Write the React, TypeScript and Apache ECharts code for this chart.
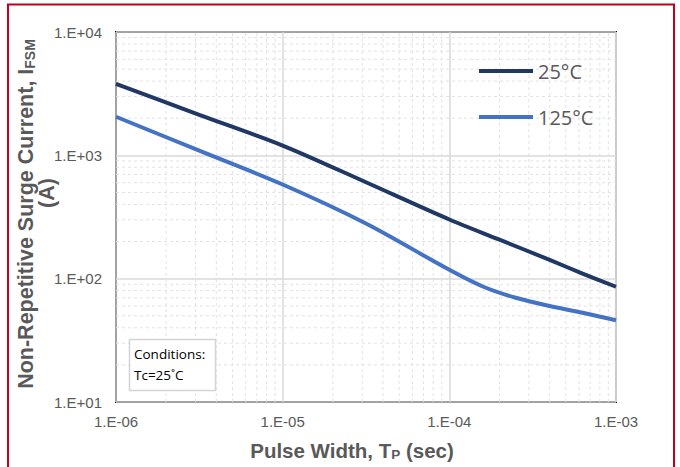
import React, { useEffect, useRef } from "react";
import * as echarts from "echarts";

// ---- data ----
const series25Name = "25°C";
const series125Name = "125°C";

const x25: number[] = [1e-6, 3.16e-6, 1e-5, 3.16e-5, 1e-4, 2e-4, 4e-4, 6.3e-4, 1e-3];
const y25: number[] = [3800, 2130, 1200, 605, 302, 207, 142, 110, 86];

const x125: number[] = [1e-6, 3.16e-6, 1e-5, 3.16e-5, 1e-4, 1.6e-4, 2.5e-4, 4e-4, 6.3e-4, 1e-3];
const y125: number[] = [2055, 1090, 580, 280, 118, 86, 70, 60, 53, 46];

const xTickLabels: string[] = ["1.E-06", "1.E-05", "1.E-04", "1.E-03"];
const yTickLabels: string[] = ["1.E+01", "1.E+02", "1.E+03", "1.E+04"];
const xMinExp = -6;
const yMinExp = 1;
const xMin = 1e-6;
const xMax = 1e-3;
const yMin = 10;
const yMax = 10000;

const minorMultipliers: number[] = [2, 3, 4, 5, 6, 7, 8, 9];
const xMinorDecades: number[] = [1e-6, 1e-5, 1e-4];
const yMinorDecades: number[] = [10, 100, 1000];

const conditionsLines: string[] = ["Conditions:", "Tc=25˚C"];

const GRAY = "#595959";

export default function App() {
  const ref = useRef<HTMLDivElement>(null);

  useEffect(() => {
    if (!ref.current) return;
    const chart = echarts.init(ref.current, undefined, { renderer: "svg" });

    const xMinor: number[] = [];
    xMinorDecades.forEach((d) => minorMultipliers.forEach((m) => xMinor.push(d * m)));
    const yMinor: number[] = [];
    yMinorDecades.forEach((d) => minorMultipliers.forEach((m) => yMinor.push(d * m)));

    const fmt = (labels: string[], minExp: number) => (v: number) => {
      const idx = Math.round(Math.log10(v)) - minExp;
      return labels[idx] ?? "";
    };

    const minorStyle = { stroke: "#e2e2e2", lineWidth: 1, lineDash: [3, 3], fill: "none" };

    const option: any = {
      animation: false,
      grid: { left: 116, top: 32, right: 64, bottom: 65, show: true, borderColor: "#000", borderWidth: 2, backgroundColor: "transparent", containLabel: false },
      xAxis: {
        type: "log",
        logBase: 10,
        min: xMin,
        max: xMax,
        splitNumber: 3,
        axisLine: { show: false },
        axisTick: { show: false },
        axisLabel: { margin: 12, color: GRAY, fontSize: 15, fontFamily: "Liberation Sans", formatter: fmt(xTickLabels, xMinExp) },
        splitLine: { show: true, lineStyle: { color: "#d9d9d9", width: 1.5 } },
      },
      yAxis: {
        type: "log",
        logBase: 10,
        min: yMin,
        max: yMax,
        splitNumber: 3,
        axisLine: { show: false },
        axisTick: { show: false },
        axisLabel: { margin: 14, color: GRAY, fontSize: 15, fontFamily: "Liberation Sans", formatter: fmt(yTickLabels, yMinExp) },
        splitLine: { show: true, lineStyle: { color: "#d9d9d9", width: 1.5 } },
      },
      legend: {
        data: [series25Name, series125Name],
        orient: "vertical",
        left: 479,
        top: 61,
        padding: 0,
        itemGap: 26,
        itemWidth: 54,
        itemHeight: 4,
        icon: "rect",
        itemStyle: { borderWidth: 0 },
        textStyle: { fontFamily: "Open Sans", fontSize: 20, color: GRAY, lineHeight: 20 },
      },
      series: [
        {
          name: "xMinor",
          type: "custom",
          silent: true,
          z: 1,
          data: xMinor.map((v) => [v, yMin]),
          encode: { x: 0, y: 1 },
          renderItem: (params: any, api: any) => {
            const p1 = api.coord([api.value(0), yMin]);
            const p2 = api.coord([api.value(0), yMax]);
            return { type: "line", shape: { x1: p1[0], y1: p1[1], x2: p2[0], y2: p2[1] }, style: minorStyle };
          },
        },
        {
          name: "yMinor",
          type: "custom",
          silent: true,
          z: 1,
          data: yMinor.map((v) => [xMin, v]),
          encode: { x: 0, y: 1 },
          renderItem: (params: any, api: any) => {
            const p1 = api.coord([xMin, api.value(1)]);
            const p2 = api.coord([xMax, api.value(1)]);
            return { type: "line", shape: { x1: p1[0], y1: p1[1], x2: p2[0], y2: p2[1] }, style: minorStyle };
          },
        },
        {
          name: series25Name,
          type: "line",
          data: x25.map((x, i) => [x, y25[i]]),
          showSymbol: false,
          symbol: "none",
          smooth: 0.3,
          itemStyle: { color: "#203864" },
          lineStyle: { color: "#203864", width: 4, type: "solid" },
          z: 3,
        },
        {
          name: series125Name,
          type: "line",
          data: x125.map((x, i) => [x, y125[i]]),
          showSymbol: false,
          symbol: "none",
          smooth: 0.3,
          itemStyle: { color: "#4472c4" },
          lineStyle: { color: "#4472c4", width: 4, type: "solid" },
          z: 3,
        },
      ],
      graphic: [
        {
          type: "rect",
          shape: { x: 8, y: 4.5, width: 666, height: 500 },
          style: { fill: "none", stroke: "#c0001e", lineWidth: 2 },
          silent: true,
          z: 100,
        },
        {
          type: "rect",
          shape: { x: 129.5, y: 339.5, width: 86, height: 51 },
          style: { fill: "#fff", stroke: "#d4d4d4", lineWidth: 1.5 },
          z: 50,
        },
        {
          type: "text",
          x: 134,
          y: 354,
          style: { text: conditionsLines[0], fontFamily: "Open Sans", fontSize: 13.5, fill: "#000", align: "left", verticalAlign: "middle" },
          z: 51,
        },
        {
          type: "text",
          x: 134,
          y: 375,
          style: { text: conditionsLines[1], fontFamily: "Open Sans", fontSize: 13.5, fill: "#000", align: "left", verticalAlign: "middle" },
          z: 51,
        },
        {
          type: "text",
          x: 352,
          y: 450,
          style: {
            text: "{a|Pulse Width, T}{s|P}{a| (sec)}",
            align: "center",
            verticalAlign: "middle",
            rich: {
              a: { fontFamily: "Liberation Sans", fontWeight: "bold", fontSize: 20.5, fill: GRAY, color: GRAY },
              s: { fontFamily: "Liberation Sans", fontWeight: "bold", fontSize: 13.5, fill: GRAY, color: GRAY, padding: [8, 0, 0, 0] },
            },
          },
        },
        {
          type: "text",
          x: 26,
          y: 214,
          rotation: Math.PI / 2,
          style: {
            text: "{a|Non-Repetitive Surge Current, I}{s|FSM}",
            align: "center",
            verticalAlign: "middle",
            rich: {
              a: { fontFamily: "Liberation Sans", fontWeight: "bold", fontSize: 21.5, fill: GRAY, color: GRAY },
              s: { fontFamily: "Liberation Sans", fontWeight: "bold", fontSize: 14, fill: GRAY, color: GRAY, padding: [8, 0, 0, 0] },
            },
          },
        },
        {
          type: "text",
          x: 47,
          y: 193,
          rotation: Math.PI / 2,
          style: { text: "(A)", fontFamily: "Liberation Sans", fontWeight: "bold", fontSize: 21.5, fill: GRAY, align: "center", verticalAlign: "middle" },
        },
      ],
    };

    chart.setOption(option);
    return () => chart.dispose();
  }, []);

  return <div ref={ref} style={{ position: "fixed", left: 0, top: 0, width: 680, height: 467, background: "#fff" }} />;
}
